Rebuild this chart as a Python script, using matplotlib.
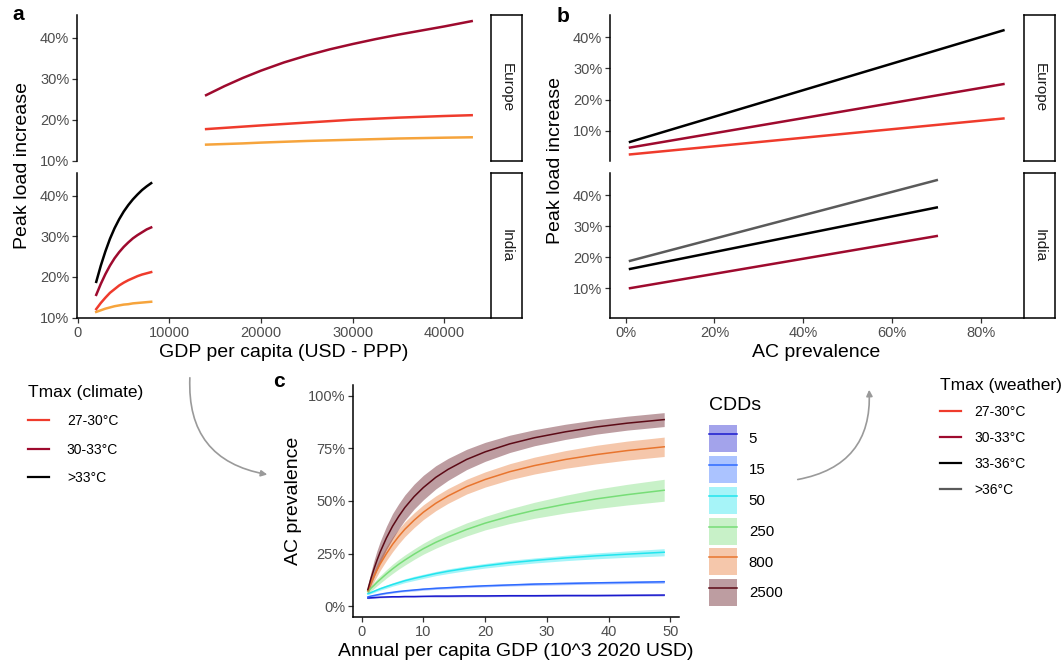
import matplotlib.pyplot as plt
from matplotlib.lines import Line2D
from matplotlib.patches import Patch, FancyArrowPatch
from matplotlib.ticker import PercentFormatter

plt.rcParams['font.family'] = ['Liberation Sans', 'DejaVu Sans']

# ---- panel a: peak load increase vs GDP per capita ----
gdp_eu = [14000, 16000, 18000, 20000, 22500, 25000, 27500, 30000, 32500, 35000, 37500, 40000, 43000]
a_eu_below27 = [0.139, 0.1405, 0.142, 0.144, 0.146, 0.148, 0.1495, 0.151, 0.1525, 0.154, 0.155, 0.156, 0.157]
a_eu_27_30 = [0.177, 0.180, 0.183, 0.186, 0.1895, 0.193, 0.1965, 0.200, 0.2025, 0.205, 0.207, 0.209, 0.211]
a_eu_30_33 = [0.260, 0.282, 0.302, 0.320, 0.340, 0.357, 0.372, 0.385, 0.397, 0.408, 0.418, 0.428, 0.441]

gdp_in = [2000, 2500, 3000, 3500, 4000, 4500, 5000, 5500, 6000, 6500, 7000, 7500, 8000]
a_in_below27 = [0.114, 0.118, 0.122, 0.125, 0.128, 0.130, 0.132, 0.133, 0.135, 0.136, 0.137, 0.138, 0.139]
a_in_27_30 = [0.121, 0.136, 0.149, 0.161, 0.170, 0.179, 0.186, 0.192, 0.197, 0.202, 0.206, 0.209, 0.212]
a_in_30_33 = [0.156, 0.183, 0.207, 0.228, 0.246, 0.261, 0.274, 0.285, 0.295, 0.303, 0.310, 0.317, 0.322]
a_in_above33 = [0.188, 0.228, 0.263, 0.294, 0.320, 0.342, 0.361, 0.377, 0.391, 0.403, 0.414, 0.423, 0.431]

# ---- panel b: peak load increase vs AC prevalence ----
ac_eu = [0.01, 0.85]
b_eu_27_30 = [0.025, 0.140]
b_eu_30_33 = [0.047, 0.250]
b_eu_33_36 = [0.065, 0.422]
ac_in = [0.01, 0.70]
b_in_30_33 = [0.100, 0.268]
b_in_33_36 = [0.162, 0.360]
b_in_above36 = [0.188, 0.448]

# ---- panel c: AC prevalence vs GDP, by CDDs ----
gdp_c = [1, 1.5, 2, 2.5, 3, 4, 5, 6, 7, 8.5, 10, 12, 14, 17, 20, 24, 28, 33, 38, 43, 49]
cdd_levels = ['5', '15', '50', '250', '800', '2500']
ac_5 = [0.040, 0.041, 0.042, 0.043, 0.044, 0.045, 0.046, 0.046, 0.047, 0.047, 0.048,
        0.049, 0.049, 0.050, 0.050, 0.051, 0.051, 0.052, 0.052, 0.053, 0.054]
ac_15 = [0.045, 0.049, 0.052, 0.055, 0.058, 0.063, 0.067, 0.071, 0.074, 0.078, 0.082,
         0.086, 0.089, 0.094, 0.098, 0.102, 0.106, 0.109, 0.112, 0.114, 0.117]
ac_50 = [0.060, 0.066, 0.072, 0.078, 0.084, 0.094, 0.104, 0.113, 0.122, 0.133, 0.143,
         0.156, 0.167, 0.181, 0.193, 0.207, 0.218, 0.230, 0.240, 0.248, 0.257]
ac_250 = [0.070, 0.086, 0.100, 0.115, 0.128, 0.154, 0.178, 0.200, 0.220, 0.248, 0.274,
          0.304, 0.330, 0.365, 0.395, 0.428, 0.456, 0.485, 0.510, 0.530, 0.551]
ac_800 = [0.075, 0.110, 0.143, 0.173, 0.201, 0.250, 0.294, 0.332, 0.366, 0.409, 0.447,
          0.489, 0.524, 0.568, 0.602, 0.639, 0.668, 0.697, 0.720, 0.739, 0.757]
ac_2500 = [0.080, 0.132, 0.178, 0.220, 0.258, 0.324, 0.380, 0.427, 0.469, 0.521, 0.564,
           0.612, 0.650, 0.697, 0.733, 0.771, 0.800, 0.828, 0.851, 0.869, 0.886]
se_5 = [0.003, 0.003, 0.003, 0.003, 0.003, 0.003, 0.003, 0.003, 0.003, 0.003, 0.003,
        0.004, 0.004, 0.004, 0.004, 0.004, 0.004, 0.004, 0.004, 0.004, 0.004]
se_15 = [0.004, 0.004, 0.004, 0.004, 0.004, 0.004, 0.004, 0.004, 0.004, 0.005, 0.005,
         0.005, 0.005, 0.005, 0.005, 0.005, 0.006, 0.006, 0.006, 0.006, 0.007]
se_50 = [0.005, 0.005, 0.006, 0.006, 0.007, 0.008, 0.008, 0.009, 0.009, 0.010, 0.010,
         0.010, 0.011, 0.011, 0.011, 0.012, 0.012, 0.013, 0.014, 0.015, 0.017]
se_250 = [0.010, 0.013, 0.015, 0.017, 0.018, 0.020, 0.022, 0.023, 0.024, 0.025, 0.026,
          0.028, 0.029, 0.031, 0.032, 0.035, 0.038, 0.042, 0.046, 0.049, 0.052]
se_800 = [0.015, 0.020, 0.025, 0.028, 0.030, 0.033, 0.035, 0.035, 0.035, 0.035, 0.035,
          0.035, 0.035, 0.035, 0.036, 0.038, 0.040, 0.042, 0.044, 0.045, 0.046]
se_2500 = [0.020, 0.030, 0.040, 0.046, 0.050, 0.055, 0.060, 0.060, 0.060, 0.059, 0.058,
           0.055, 0.052, 0.048, 0.045, 0.041, 0.038, 0.036, 0.034, 0.033, 0.033]

ORANGE = '#F6A43C'
RED = '#EF3B2C'
DARKRED = '#9E0A2E'
BLACK = '#000000'
GREY = '#5A5A5A'
cdd_colors = ['#1A1ACD', '#2F6BFF', '#22E5EE', '#77DD77', '#E8752E', '#5C0A16']

W, H = 1061, 669
fig = plt.figure(figsize=(W / 100, H / 100), dpi=100)


def box(x0, y0, x1, y1):
    return [x0 / W, 1 - y1 / H, (x1 - x0) / W, (y1 - y0) / H]


def style(ax, bottom=True):
    for s in ['top', 'right']:
        ax.spines[s].set_visible(False)
    ax.spines['left'].set_linewidth(1.1)
    ax.spines['bottom'].set_linewidth(1.1)
    ax.spines['bottom'].set_visible(bottom)
    ax.tick_params(direction='out', length=3.5, width=0.9, color='#333333',
                   labelcolor='#4D4D4D', labelsize=10.5, pad=2)
    if not bottom:
        ax.tick_params(bottom=False, labelbottom=False)


def strip(x0, y0, x1, y1, label):
    s = fig.add_axes(box(x0, y0, x1, y1))
    s.set_xticks([])
    s.set_yticks([])
    for sp in s.spines.values():
        sp.set_linewidth(1.1)
    s.text(0.5, 0.5, label, rotation=-90, ha='center', va='center',
           fontsize=11, color='#1A1A1A', transform=s.transAxes)


# panel a
a_eu = fig.add_axes(box(77, 15, 490, 161))
a_in = fig.add_axes(box(77, 173, 490, 318))
lw = 1.8
a_eu.plot(gdp_eu, a_eu_below27, color=ORANGE, lw=lw)
a_eu.plot(gdp_eu, a_eu_27_30, color=RED, lw=lw)
a_eu.plot(gdp_eu, a_eu_30_33, color=DARKRED, lw=lw)
a_in.plot(gdp_in, a_in_below27, color=ORANGE, lw=lw)
a_in.plot(gdp_in, a_in_27_30, color=RED, lw=lw)
a_in.plot(gdp_in, a_in_30_33, color=DARKRED, lw=lw)
a_in.plot(gdp_in, a_in_above33, color=BLACK, lw=lw)
for ax in (a_eu, a_in):
    ax.set_xlim(-100, 45000)
    ax.set_ylim(0.099, 0.456)
    ax.set_yticks([0.1, 0.2, 0.3, 0.4])
    ax.yaxis.set_major_formatter(PercentFormatter(1.0, decimals=0))
    ax.set_xticks([0, 10000, 20000, 30000, 40000])
style(a_eu, bottom=False)
style(a_in)
a_in.set_xlabel('GDP per capita (USD - PPP)', fontsize=14, labelpad=3)
strip(491, 15, 522, 161, 'Europe')
strip(491, 173, 522, 318, 'India')
fig.text(23 / W, 1 - 165 / H, 'Peak load increase', rotation=90,
         ha='center', va='center', fontsize=14)

# panel b
b_eu = fig.add_axes(box(610, 15, 1023, 161))
b_in = fig.add_axes(box(610, 173, 1023, 318))
b_eu.plot(ac_eu, b_eu_27_30, color=RED, lw=lw)
b_eu.plot(ac_eu, b_eu_30_33, color=DARKRED, lw=lw)
b_eu.plot(ac_eu, b_eu_33_36, color=BLACK, lw=lw)
b_in.plot(ac_in, b_in_30_33, color=DARKRED, lw=lw)
b_in.plot(ac_in, b_in_33_36, color=BLACK, lw=lw)
b_in.plot(ac_in, b_in_above36, color=GREY, lw=lw)
for ax in (b_eu, b_in):
    ax.set_xlim(-0.035, 0.894)
    ax.set_ylim(0.004, 0.471)
    ax.set_yticks([0.1, 0.2, 0.3, 0.4])
    ax.yaxis.set_major_formatter(PercentFormatter(1.0, decimals=0))
    ax.set_xticks([0, 0.2, 0.4, 0.6, 0.8])
    ax.xaxis.set_major_formatter(PercentFormatter(1.0, decimals=0))
style(b_eu, bottom=False)
style(b_in)
b_in.set_xlabel('AC prevalence', fontsize=14, labelpad=3)
strip(1024, 15, 1055, 161, 'Europe')
strip(1024, 173, 1055, 318, 'India')
fig.text(556 / W, 1 - 160 / H, 'Peak load increase', rotation=90,
         ha='center', va='center', fontsize=14)

# panel c
c = fig.add_axes(box(353, 385, 679, 617))
ac_series = [ac_5, ac_15, ac_50, ac_250, ac_800, ac_2500]
se_series = [se_5, se_15, se_50, se_250, se_800, se_2500]
handles = []
for lvl, col, ys, se in zip(cdd_levels, cdd_colors, ac_series, se_series):
    lo = [y - e for y, e in zip(ys, se)]
    hi = [y + e for y, e in zip(ys, se)]
    c.fill_between(gdp_c, lo, hi, color=col, alpha=0.4, lw=0)
    c.plot(gdp_c, ys, color=col, lw=1.1)
    handles.append((Patch(facecolor=col, alpha=0.4, lw=0),
                    Line2D([], [], color=col, lw=1.1)))
c.set_xlim(-1.4, 51.4)
c.set_ylim(-0.05, 1.05)
c.set_xticks([0, 10, 20, 30, 40, 50])
c.set_yticks([0, 0.25, 0.5, 0.75, 1.0])
c.yaxis.set_major_formatter(PercentFormatter(1.0, decimals=0))
style(c)
c.set_xlabel('Annual per capita GDP (10^3 2020 USD)', fontsize=14, labelpad=3)
c.set_ylabel('AC prevalence', fontsize=14, labelpad=4)

cdd_leg = fig.legend(handles, cdd_levels, title='CDDs', loc='upper left',
                     bbox_to_anchor=(709 / W, 1 - 397 / H), frameon=False,
                     fontsize=10.8, title_fontsize=14, handlelength=1.85,
                     handleheight=2.4, labelspacing=0.25, handletextpad=0.8,
                     borderpad=0, borderaxespad=0, alignment='left')
cdd_leg._legend_box.sep = 8  # more room below the "CDDs" title

# Tmax legends
clim_labels = ['27-30°C', '30-33°C', '>33°C']
clim_colors = [RED, DARKRED, BLACK]
fig.legend([Line2D([], [], color=cc, lw=1.6) for cc in clim_colors], clim_labels,
           title='Tmax (climate)', loc='upper left',
           bbox_to_anchor=(28 / W, 1 - 385 / H), frameon=False,
           fontsize=10, title_fontsize=12.5, handlelength=1.5,
           handletextpad=1.3, labelspacing=1.03, borderpad=0,
           borderaxespad=0, alignment='left')

weather_labels = ['27-30°C', '30-33°C', '33-36°C', '>36°C']
weather_colors = [RED, DARKRED, BLACK, GREY]
fig.legend([Line2D([], [], color=cc, lw=1.6) for cc in weather_colors], weather_labels,
           title='Tmax (weather)', loc='upper left',
           bbox_to_anchor=(940 / W, 1 - 378 / H), frameon=False,
           fontsize=10, title_fontsize=12.5, handlelength=1.5,
           handletextpad=1.0, labelspacing=0.86, borderpad=0,
           borderaxespad=0, alignment='left')

# panel letters
fig.text(12 / W, 1 - 15 / H, 'a', fontsize=15, fontweight='bold', va='center')
fig.text(557 / W, 1 - 17 / H, 'b', fontsize=15, fontweight='bold', va='center')
fig.text(273 / W, 1 - 382 / H, 'c', fontsize=15, fontweight='bold', va='center')

# connecting arrows
for pa, pb in [((190, 375), (270, 475)), ((795, 480), (869, 387))]:
    arr = FancyArrowPatch((pa[0] / W, 1 - pa[1] / H), (pb[0] / W, 1 - pb[1] / H),
                          transform=fig.transFigure,
                          connectionstyle='arc3,rad=0.45', arrowstyle='-|>',
                          mutation_scale=9, color='#9A9A9A', lw=1.2)
    fig.add_artist(arr)

fig.savefig('out.png', dpi=100)
